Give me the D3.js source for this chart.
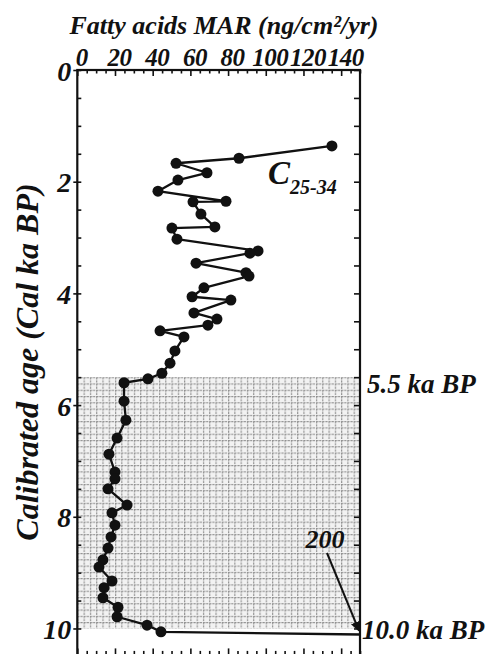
<!DOCTYPE html>
<html>
<head>
<meta charset="utf-8">
<script src="https://cdn.jsdelivr.net/npm/d3@7"></script>
<style>
  html, body { margin: 0; padding: 0; background: #fff; }
  svg text { font-family: "Liberation Serif", "Times New Roman", serif; font-weight: bold; font-style: italic; fill: #111; }
</style>
</head>
<body>
<svg id="chart" width="490" height="654"></svg>
<script>
// Fatty acids MAR (ng/cm2/yr), C25-34, versus calibrated age (cal ka BP)
const ages = [1.36, 1.58, 1.67, 1.84, 1.97, 2.17, 2.35, 2.36, 2.58, 2.81, 2.83, 3.03, 3.24, 3.28, 3.46, 3.63, 3.69,
  3.90, 4.06, 4.12, 4.35, 4.46, 4.57, 4.67, 4.78, 5.03, 5.25, 5.43, 5.53, 5.60, 5.93, 6.27, 6.59, 6.88, 7.20, 7.32,
  7.50, 7.79, 7.93, 8.15, 8.36, 8.56, 8.77, 8.90, 9.15, 9.27, 9.45, 9.62, 9.79, 9.94, 10.06, 10.13];
const mar = [135.1, 85.8, 52.4, 68.8, 53.4, 42.8, 78.9, 61.4, 65.6, 73.0, 50.2, 52.9, 95.9, 91.6, 63.0, 89.5, 91.1,
  67.2, 60.9, 81.5, 61.9, 74.1, 69.3, 43.9, 56.6, 51.8, 49.2, 44.9, 37.5, 24.8, 24.8, 25.8, 21.1, 16.8, 20.0, 20.0,
  16.3, 26.4, 18.4, 20.0, 17.9, 16.3, 13.6, 11.5, 18.4, 14.2, 13.6, 21.6, 21.1, 37.0, 44.4, 200];
const xTicks = [0, 20, 40, 60, 80, 100, 120, 140];
const yTicks = [0, 2, 4, 6, 8, 10];
const shadedBand = [5.5, 10.0];
const bandLabels = ["5.5 ka BP", "10.0 ka BP"];
const offScaleLabel = "200";
const seriesLabel = ["C", "25-34"];
const xTitle = "Fatty acids MAR (ng/cm²/yr)";
const yTitle = "Calibrated age (Cal ka BP)";

const svg = d3.select("#chart");
const L = 77.3, R = 360, T = 70, B = 656.4;
const x = d3.scaleLinear().domain([0, 150]).range([L, R]);
const y = d3.scaleLinear().domain([0, 10.5]).range([T, B]);

// shaded grid pattern
const cell = 6.28;
const defs = svg.append("defs");
const pat = defs.append("pattern").attr("id", "grid").attr("patternUnits", "userSpaceOnUse")
  .attr("x", L).attr("y", y(shadedBand[0])).attr("width", cell).attr("height", cell);
pat.append("rect").attr("width", cell).attr("height", cell).attr("fill", "#f2f2f2");
pat.append("path").attr("d", `M0,0.6H${cell}M0.6,0V${cell}`).attr("stroke", "#8f8f8f").attr("stroke-width", 1.1)
  .attr("stroke-dasharray", "2.2,0.9");
defs.append("marker").attr("id", "arrow").attr("viewBox", "0 0 10 10").attr("refX", 9).attr("refY", 5)
  .attr("markerWidth", 5).attr("markerHeight", 5).attr("orient", "auto")
  .append("path").attr("d", "M0,0L10,5L0,10z").attr("fill", "#111");
defs.append("clipPath").attr("id", "plotclip").append("rect")
  .attr("x", L).attr("y", T).attr("width", R - L).attr("height", B - T);

svg.append("rect").attr("x", L).attr("y", y(shadedBand[0]))
  .attr("width", R - L).attr("height", y(shadedBand[1]) - y(shadedBand[0]))
  .attr("fill", "url(#grid)");

// frame
svg.append("rect").attr("x", L).attr("y", T).attr("width", R - L).attr("height", B - T)
  .attr("fill", "none").attr("stroke", "#111").attr("stroke-width", 2.2);

const minorX = d3.range(0, 150.01, 5).filter(v => v % 20 !== 0);
const minorY = d3.range(0, 10.51, 0.5).filter(v => v % 2 !== 0);

function styleAxis(g) {
  g.select(".domain").remove();
  g.selectAll("line").attr("stroke", "#111").attr("stroke-width", 1.6);
}
// top axis (inward ticks)
svg.append("g").attr("transform", `translate(0,${T})`)
  .call(d3.axisBottom(x).tickValues(d3.range(0, 150.01, 20)).tickSize(6).tickFormat(""))
  .call(styleAxis);
svg.append("g").attr("transform", `translate(0,${T})`)
  .call(d3.axisBottom(x).tickValues(minorX).tickSize(3.5).tickFormat(""))
  .call(styleAxis);
svg.append("g").attr("transform", `translate(0,${T})`)
  .call(d3.axisTop(x).tickValues(xTicks).tickSize(0).tickPadding(4).tickFormat(d3.format("d")))
  .call(g => g.select(".domain").remove())
  .call(g => g.selectAll("text").attr("font-size", 25).attr("dx", 4).attr("letter-spacing", -0.5));
// bottom axis (ticks upward)
svg.append("g").attr("transform", `translate(0,${B})`)
  .call(d3.axisTop(x).tickValues(d3.range(0, 150.01, 20)).tickSize(8).tickFormat(""))
  .call(styleAxis);
svg.append("g").attr("transform", `translate(0,${B})`)
  .call(d3.axisTop(x).tickValues(minorX).tickSize(5.5).tickFormat(""))
  .call(styleAxis);
// left axis
svg.append("g").attr("transform", `translate(${L},0)`)
  .call(d3.axisLeft(y).tickValues(yTicks).tickSizeInner(-4).tickSizeOuter(0).tickFormat(""))
  .call(styleAxis);
svg.append("g").attr("transform", `translate(${L},0)`)
  .call(d3.axisLeft(y).tickValues(yTicks).tickSize(4).tickPadding(2).tickFormat(d3.format("d")))
  .call(styleAxis)
  .call(g => g.selectAll("text").attr("font-size", 28).attr("dy", "0.36em"));
svg.append("g").attr("transform", `translate(${L},0)`)
  .call(d3.axisRight(y).tickValues(minorY).tickSize(4).tickFormat(""))
  .call(styleAxis);
// right axis (inward)
svg.append("g").attr("transform", `translate(${R},0)`)
  .call(d3.axisLeft(y).tickValues(d3.range(0, 10.51, 0.5)).tickSize(6).tickFormat(""))
  .call(styleAxis);

// data
const pts = ages.map((a, i) => ({ a, v: mar[i] }));
const line = d3.line().x(d => x(d.v)).y(d => y(d.a));
const plot = svg.append("g").attr("clip-path", "url(#plotclip)");
plot.append("path").datum(pts).attr("d", line).attr("fill", "none")
  .attr("stroke", "#111").attr("stroke-width", 2.3).attr("stroke-linejoin", "round");
plot.selectAll("circle").data(pts.filter(d => d.v <= 150)).join("circle")
  .attr("cx", d => x(d.v)).attr("cy", d => y(d.a)).attr("r", 5.5).attr("fill", "#111");

// titles
svg.append("text").attr("x", 224).attr("y", 34).attr("text-anchor", "middle")
  .attr("font-size", 26).text(xTitle);
svg.append("text").attr("transform", `translate(38,362) rotate(-90)`).attr("text-anchor", "middle")
  .attr("font-size", 32).text(yTitle);

// series label
const sl = svg.append("text").attr("x", 268).attr("y", 184).attr("font-size", 33);
sl.append("tspan").text(seriesLabel[0]);
sl.append("tspan").attr("font-size", 20).attr("dy", 10).text(seriesLabel[1]);

// band labels
bandLabels.forEach((t, i) => {
  svg.append("text").attr("x", 367 - i * 5).attr("y", y(shadedBand[i]) + (i === 0 ? 16 : 11))
    .attr("font-size", 27).text(t);
});

// off-scale annotation
svg.append("text").attr("x", 325).attr("y", 548).attr("text-anchor", "middle")
  .attr("font-size", 26).text(offScaleLabel);
svg.append("line").attr("x1", 327).attr("y1", 553).attr("x2", x(150) - 1).attr("y2", y(ages[ages.length - 1]) - 5)
  .attr("stroke", "#111").attr("stroke-width", 2).attr("marker-end", "url(#arrow)");
</script>
</body>
</html>
